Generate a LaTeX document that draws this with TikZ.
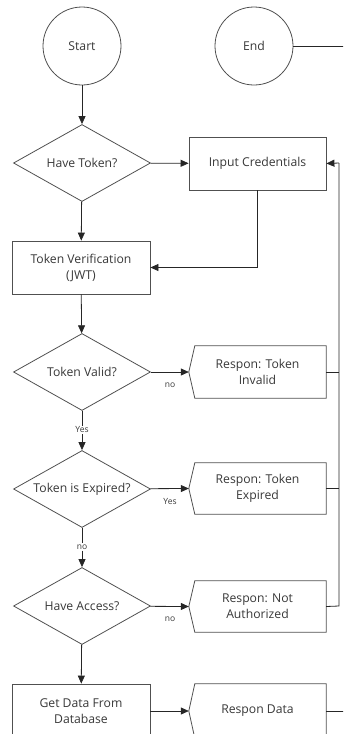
\documentclass[tikz,border=0pt]{standalone}
\usepackage{fontspec}
\setmainfont{Open Sans}
\usetikzlibrary{shapes.geometric,arrows.meta,calc}
\definecolor{linec}{HTML}{505050}
\definecolor{textc}{HTML}{383838}
\newcommand{\zb}[1]{\makebox[0pt]{#1}}
\begin{document}
\begin{tikzpicture}[x=1pt,y=-1pt,
  every node/.style={font=\fontsize{12.2}{16}\selectfont,text=textc},
  term/.style={circle,draw=linec,line width=0.8pt,minimum size=78pt,inner sep=0pt},
  dec/.style={diamond,draw=linec,line width=0.8pt,minimum width=137pt,minimum height=77pt,inner sep=0pt},
  proc/.style={rectangle,draw=linec,line width=0.8pt,minimum width=138pt,minimum height=53pt,align=center,inner sep=0pt},
  resp/.style={rectangle,minimum width=137pt,minimum height=52pt,align=center,inner sep=0pt},
  arr/.style={-{Triangle[length=8pt,width=7pt]},draw=black!85,line width=0.8pt},
  con/.style={draw=black!85,line width=0.8pt},
  lbl/.style={font=\fontsize{8.5}{10}\selectfont,text=textc,inner sep=1pt}]
\useasboundingbox (0,0) rectangle (343,734);
\clip (0,0) rectangle (343,734);
% nodes
\node[term] (start) at (82,46) {Start};
\node[term] (end) at (254,46) {End};
\node[dec] (ht) at (82,163) {\zb{Have Token?}};
\node[proc,minimum width=137pt] (ic) at (257.5,163.5) {Input Credentials};
\node[proc] (tv) at (81,267.5) {Token Verification\\(JWT)};
\node[dec] (valid) at (82,372) {\zb{Token Valid?}};
\node[resp] (inv) at (257.5,372) {Respon: Token\\Invalid};
\node[dec] (exp) at (82,489) {\zb{Token is Expired?}};
\node[resp,minimum height=51pt] (expd) at (257.5,488.5) {Respon: Token\\Expired};
\node[dec] (acc) at (82,606) {\zb{Have Access?}};
\node[resp,minimum height=51pt] (na) at (257.5,606.5) {Respon: Not\\Authorized};
\node[proc,minimum height=54pt] (gd) at (81,711) {Get Data From\\Database};
\node[resp,minimum height=54pt] (rd) at (257.5,711) {Respon Data};
% display shapes
\foreach \n in {inv,expd,na,rd}{
  \draw[draw=linec,line width=0.8pt] ($(\n.north west)+(6,0)$) -- (\n.north east) -- (\n.south east) -- ($(\n.south west)+(6,0)$) -- (\n.west) -- cycle;
}
% labels
\node[lbl,fill=white] (yes1) at (82,430) {Yes};
\node[lbl,fill=white] (no2) at (82,547) {no};
\node[lbl] (no1) at (170,385) {no};
\node[lbl] (yes2) at (170,502) {Yes};
\node[lbl] (no3) at (170,619) {no};
% connectors
\coordinate (rtop) at (339,163);
\coordinate (rbot) at (339,606);
\draw[arr] (start) -- (ht);
\draw[arr] (ht) -- (ic);
\draw[arr] (ht) -- (tv);
\draw[arr] (ic.south) |- (tv.east);
\draw[arr] (tv) -- (valid);
\draw[arr] (valid) -- (inv.west);
\draw[con] (valid) -- (yes1);
\draw[arr] (yes1) -- (exp);
\draw[arr] (exp) -- (expd.west);
\draw[con] (exp) -- (no2);
\draw[arr] (no2) -- (acc);
\draw[arr] (acc) -- (na.west);
\draw[arr] (acc) -- (gd);
\draw[arr] (gd) -- (rd.west);
\draw[con] (na.east) -- (rbot) -- (rtop);
\draw[arr] (rtop) -- (ic.east);
\draw[con] (inv.east) -- (inv.east -| rtop);
\draw[con] (expd.east) -- (expd.east -| rtop);
\draw[con] (end.east) -- ++(55,0);
\draw[con] (rd.east) -- ++(20,0);
\end{tikzpicture}
\end{document}
